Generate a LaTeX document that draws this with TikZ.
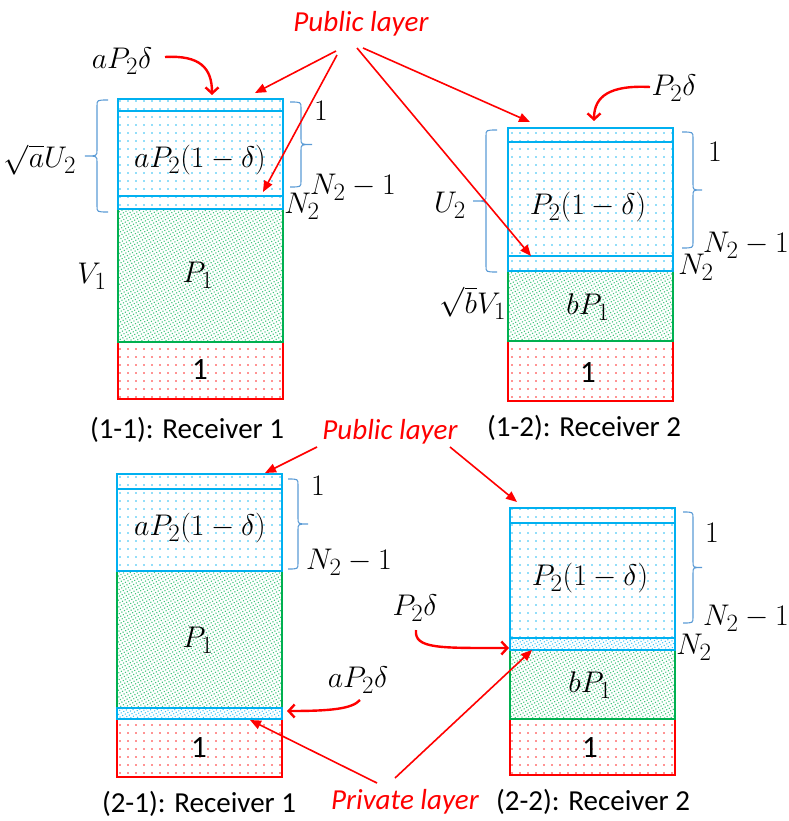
\documentclass[tikz,border=0pt]{standalone}
\usepackage{graphicx}
\usepackage{fontspec}
\newfontfamily\calib{Carlito}
\usetikzlibrary{patterns.meta,arrows.meta}
\definecolor{lblue}{HTML}{00B0F0}
\definecolor{lgreen}{HTML}{00B050}
\definecolor{bracec}{HTML}{5B9BD5}
\definecolor{pred}{HTML}{FF0000}
\newcommand{\M}[1]{\scalebox{1.2}{$#1$}}
\newcommand{\braceL}[5]{% serif x, vertical x, tip x, top y, bottom y
  \draw[brc] (#1,#4) .. controls (#2,#4) .. (#2,#4+6) -- ({#2},{(#4+#5)/2-6}) .. controls ({#2},{(#4+#5)/2}) .. ({#3},{(#4+#5)/2}) .. controls ({#2},{(#4+#5)/2}) .. ({#2},{(#4+#5)/2+6}) -- (#2,#5-6) .. controls (#2,#5) .. (#1,#5);}
\begin{document}
\begin{tikzpicture}[x=1pt,y=-1pt,
  lay/.style={draw, inner sep=0pt, outer sep=0pt, anchor=north west, minimum width=165pt},
  blu/.style={lay, draw=lblue, line width=2pt, pattern={Dots[distance=8pt,radius=0.85pt]}, pattern color=lblue!85},
  bluD/.style={lay, draw=lblue, line width=2pt, pattern={Dots[distance=3pt,radius=0.75pt,angle=30]}, pattern color=lblue!80},
  grn/.style={lay, draw=lgreen, line width=1.6pt, pattern={Dots[distance=3pt,radius=0.8pt,angle=30]}, pattern color=lgreen!75},
  rd/.style={lay, draw=pred, line width=1.8pt, pattern={Dots[distance=8pt,radius=0.85pt]}, pattern color=pred!85},
  mth/.style={inner sep=0pt, font=\Huge},
  onelbl/.style={inner sep=0pt, font=\calib\fontsize{31}{36}\selectfont},
  capt/.style={inner sep=0pt, font=\calib\fontsize{29}{34}\selectfont},
  redlbl/.style={inner sep=0pt, text=pred, font=\calib\itshape\fontsize{29}{34}\selectfont},
  arr/.style={draw=pred, line width=1.6pt, -{Triangle[length=11pt,width=9pt]}},
  carr/.style={draw=pred, line width=2.4pt, -{Straight Barb[length=6pt,width=13pt]}},
  brc/.style={draw=bracec, line width=1.1pt}]
\useasboundingbox (0,0) rectangle (788,821);

% ---------- panel (1-1)
\node[rd, minimum height=57pt] (L11e) at (118,342) {};
\node[grn, minimum height=133pt] (L11d) at (118,209) {};
\node[blu, minimum height=12pt] (L11a) at (118,99) {};
\node[blu, minimum height=85pt] (L11b) at (118,111) {};
\node[blu, minimum height=13pt] (L11c) at (118,196) {};
\node[mth] (t11b) at (200,160) {\M{aP_2(1-\delta)}};
\node[mth] (t11d) at (198,275) {\M{P_1}};
\node[onelbl] (t11e) at (200,370) {1};
\node[mth] (v11) at (92,276) {\M{V_1}};
\node[mth] (u11) at (40,160) {\M{\sqrt{a}U_2}};
\braceL{108}{97}{85}{100}{212}
\braceL{290}{301}{312}{102}{187}
\node[mth] (o11) at (321,111) {\M{1}};
\node[mth] (n11) at (353,187) {\M{N_2-1}};
\node[mth] (m11) at (302,206) {\M{N_2}};
\node[mth] (d11) at (122,61) {\M{aP_2\delta}};
\coordinate (d11s) at (165,57);
\coordinate (d11e) at (212,95);
\draw[carr] (d11s) .. controls (200,55) and (212,68) .. (d11e);
\node[capt] (c11) at (187,430) {(1-1): Receiver 1};

% ---------- panel (1-2)
\node[rd, minimum height=60pt] (L12e) at (508,341) {};
\node[grn, minimum height=70pt] (L12d) at (508,271) {};
\node[blu, minimum height=14pt] (L12a) at (508,128) {};
\node[blu, minimum height=114pt] (L12b) at (508,142) {};
\node[blu, minimum height=15pt] (L12c) at (508,256) {};
\node[mth] (t12b) at (588,207) {\M{P_2(1-\delta)}};
\node[mth] (t12d) at (588,307) {\M{bP_1}};
\node[onelbl] (t12e) at (588,373) {1};
\node[mth] (u12) at (450,205) {\M{U_2}};
\node[mth] (v12) at (473,303) {\M{\sqrt{b}V_1}};
\braceL{497}{486}{473}{130}{272}
\braceL{682}{693}{702}{132}{248}
\node[mth] (o12) at (715,152) {\M{1}};
\node[mth] (n12) at (746,245) {\M{N_2-1}};
\node[mth] (m12) at (696,267) {\M{N_2}};
\node[mth] (d12) at (674,88) {\M{P_2\delta}};
\coordinate (d12s) at (650,87);
\coordinate (d12e) at (594,121);
\draw[carr] (d12s) .. controls (610,85) and (594,96) .. (d12e);
\node[capt] (c12) at (584,428) {(1-2): Receiver 2};

% ---------- panel (2-1)
\node[rd, minimum height=58pt] (L21e) at (117,719) {};
\node[grn, minimum height=137pt] (L21d) at (117,571) {};
\node[blu, minimum height=15pt] (L21a) at (117,474) {};
\node[blu, minimum height=82pt] (L21b) at (117,489) {};
\node[bluD, minimum height=11pt] (L21c) at (117,708) {};
\node[mth] (t21b) at (200,528) {\M{aP_2(1-\delta)}};
\node[mth] (t21d) at (198,640) {\M{P_1}};
\node[onelbl] (t21e) at (199,748) {1};
\braceL{288}{298}{308}{479}{569}
\node[mth] (o21) at (318,486) {\M{1}};
\node[mth] (n21) at (349,562) {\M{N_2-1}};
\node[mth] (d21) at (358,680) {\M{aP_2\delta}};
\coordinate (d21s) at (360,700);
\coordinate (d21e) at (287,711);
\draw[carr] (d21s) .. controls (352,709) and (330,711) .. (d21e);
\node[capt] (c21) at (199,804) {(2-1): Receiver 1};

% ---------- panel (2-2)
\node[rd, minimum height=56pt] (L22e) at (510,719) {};
\node[grn, minimum height=69pt] (L22d) at (510,650) {};
\node[blu, minimum height=15pt] (L22a) at (510,508) {};
\node[blu, minimum height=115pt] (L22b) at (510,523) {};
\node[bluD, minimum height=12pt] (L22c) at (510,638) {};
\node[mth] (t22b) at (590,578) {\M{P_2(1-\delta)}};
\node[mth] (t22d) at (590,685) {\M{bP_1}};
\node[onelbl] (t22e) at (590,748) {1};
\braceL{683}{693}{702}{512}{623}
\node[mth] (o22) at (712,533) {\M{1}};
\node[mth] (n22) at (746,618) {\M{N_2-1}};
\node[mth] (m22) at (694,647) {\M{N_2}};
\node[mth] (d22) at (415,608) {\M{P_2\delta}};
\coordinate (d22s) at (416,630);
\coordinate (d22e) at (509,648);
\draw[carr] (d22s) .. controls (414,649) and (440,648) .. (d22e);
\node[capt] (c22) at (593,802) {(2-2): Receiver 2};

% ---------- layer labels and arrows
\node[redlbl] (pubT) at (361,24) {Public layer};
\coordinate (pT1s) at (336,51);  \coordinate (pT1e) at (255,93);
\coordinate (pT2s) at (337,55);  \coordinate (pT2e) at (263,192);
\coordinate (pT3s) at (357,48);  \coordinate (pT3e) at (531,256);
\coordinate (pT4s) at (363,48);  \coordinate (pT4e) at (530,122);
\draw[arr] (pT1s) -- (pT1e);
\draw[arr] (pT2s) -- (pT2e);
\draw[arr] (pT3s) -- (pT3e);
\draw[arr] (pT4s) -- (pT4e);

\node[redlbl] (pubB) at (390,432) {Public layer};
\coordinate (pB1s) at (317,447);  \coordinate (pB1e) at (265,473);
\coordinate (pB2s) at (450,447);  \coordinate (pB2e) at (517,502);
\draw[arr] (pB1s) -- (pB1e);
\draw[arr] (pB2s) -- (pB2e);

\node[redlbl] (priv) at (405,802) {Private layer};
\coordinate (pr1s) at (377,783);  \coordinate (pr1e) at (250,720);
\coordinate (pr2s) at (395,778);  \coordinate (pr2e) at (532,650);
\draw[arr] (pr1s) -- (pr1e);
\draw[arr] (pr2s) -- (pr2e);
\end{tikzpicture}
\end{document}
